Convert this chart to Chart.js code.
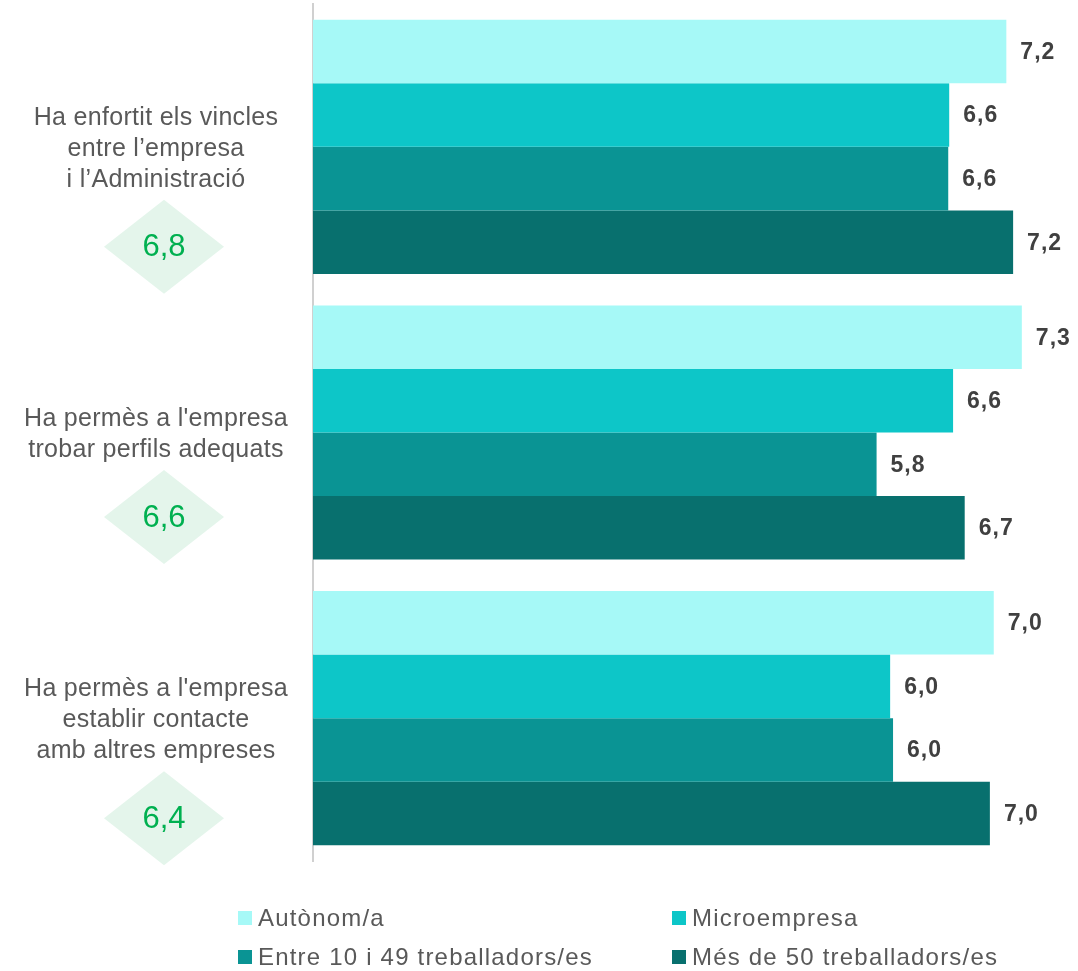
<!DOCTYPE html>
<html lang="ca">
<head>
<meta charset="utf-8">
<script src="https://cdn.jsdelivr.net/npm/chart.js@4.4.1/dist/chart.umd.min.js"></script>
<style>
    html, body { margin: 0; padding: 0; background: #fff; }
    #wrap { position: relative; width: 1078px; height: 971px; }
    #legend { position: absolute; left: 238px; top: 904px; width: 830px;
              font-family: "Liberation Sans", Arial, sans-serif; font-size: 24px;
              letter-spacing: 1.2px; color: #595959; }
    .item { position: absolute; white-space: nowrap; display: flex; align-items: center; height: 28px; }
    .item span.box { width: 14px; height: 14px; margin-right: 6px; display: inline-block; }
</style>
</head>
<body>
<div id="wrap">
    <canvas id="chart" width="1078" height="971"></canvas>
    <div id="legend"></div>
</div>
<script>
/* Valoració per mida d'empresa */

const categoryLines = [
    ['Ha enfortit els vincles', 'entre l\u2019empresa', 'i l\u2019Administració'],
    ['Ha permès a l\'empresa', 'trobar perfils adequats'],
    ['Ha permès a l\'empresa', 'establir contacte', 'amb altres empreses']
];
const averages = [6.8, 6.6, 6.4];

const seriesNames = ['Autònom/a', 'Microempresa', 'Entre 10 i 49 treballadors/es', 'Més de 50 treballadors/es'];
const seriesColors = ['#A6F9F7', '#0DC6C8', '#0A9494', '#08706E'];

const autonom = [7.16, 7.32, 7.03];
const micro = [6.57, 6.61, 5.96];
const entre10i49 = [6.56, 5.82, 5.99];
const mesDe50 = [7.23, 6.73, 6.99];

const seriesValues = [autonom, micro, entre10i49, mesDe50];

const fmt = v => v.toFixed(1).replace('.', ',');

// etiquetes de valor al final de cada barra
const valueLabels = {
    id: 'valueLabels',
    afterDatasetsDraw(chart) {
        const ctx = chart.ctx;
        ctx.save();
        ctx.font = 'bold 23px "Liberation Sans", Arial, sans-serif';
        ctx.letterSpacing = '1px';
        ctx.fillStyle = '#404040';
        ctx.textAlign = 'left';
        ctx.textBaseline = 'middle';
        chart.data.datasets.forEach((ds, di) => {
            chart.getDatasetMeta(di).data.forEach((bar, i) => {
                ctx.fillText(fmt(ds.data[i]), bar.x + 14, bar.y + 1);
            });
        });
        ctx.restore();
    }
};

// textos de categoria i rombes amb la mitjana
const sideLabels = {
    id: 'sideLabels',
    afterDraw(chart) {
        const ctx = chart.ctx;
        const yScale = chart.scales.y;
        const tx = 156, dx = 164;
        const lh = 31;
        ctx.save();
        categoryLines.forEach((lines, i) => {
            const cy = yScale.getPixelForValue(i) + 2;
            const first = cy - (lines.length - 1) * lh / 2;
            ctx.font = '25px "Liberation Sans", Arial, sans-serif';
            ctx.letterSpacing = '0.3px';
            ctx.fillStyle = '#595959';
            ctx.textAlign = 'center';
            ctx.textBaseline = 'middle';
            lines.forEach((t, k) => ctx.fillText(t, tx, first + k * lh));

            const dy = first + (lines.length - 1) * lh + 67;
            ctx.beginPath();
            ctx.moveTo(dx - 60, dy);
            ctx.lineTo(dx, dy - 47);
            ctx.lineTo(dx + 60, dy);
            ctx.lineTo(dx, dy + 47);
            ctx.closePath();
            ctx.fillStyle = '#E4F5EB';
            ctx.fill();

            ctx.letterSpacing = '0px';
            ctx.font = '31px "Liberation Sans", Arial, sans-serif';
            ctx.fillStyle = '#00B050';
            ctx.fillText(fmt(averages[i]), dx, dy + 1);
        });
        ctx.restore();
    }
};

const ctx = document.getElementById('chart').getContext('2d');

new Chart(ctx, {
    type: 'bar',
    data: {
        labels: categoryLines.map(l => l.join(' ')),
        datasets: seriesNames.map((name, i) => ({
            label: name,
            data: seriesValues[i],
            backgroundColor: seriesColors[i],
            borderWidth: 0,
            barPercentage: 1.0,
            categoryPercentage: 0.89
        }))
    },
    options: {
        indexAxis: 'y',
        responsive: false,
        animation: false,
        layout: { padding: { left: 313, top: 4, bottom: 110, right: 0 } },
        plugins: {
            legend: { display: false },
            tooltip: { enabled: false }
        },
        scales: {
            x: {
                display: false,
                min: 0,
                max: 7.9
            },
            y: {
                ticks: { display: false },
                grid: { display: false, drawTicks: false },
                border: { display: true, color: '#D0D0D0', width: 2 }
            }
        }
    },
    plugins: [valueLabels, sideLabels]
});

// llegenda en dues columnes
const legend = document.getElementById('legend');
seriesNames.forEach((name, i) => {
    const el = document.createElement('div');
    el.className = 'item';
    el.style.left = (i % 2) * 434 + 'px';
    el.style.top = Math.floor(i / 2) * 39 + 'px';
    el.innerHTML = '<span class="box" style="background:' + seriesColors[i] + '"></span>' + name;
    legend.appendChild(el);
});
</script>
</body>
</html>
